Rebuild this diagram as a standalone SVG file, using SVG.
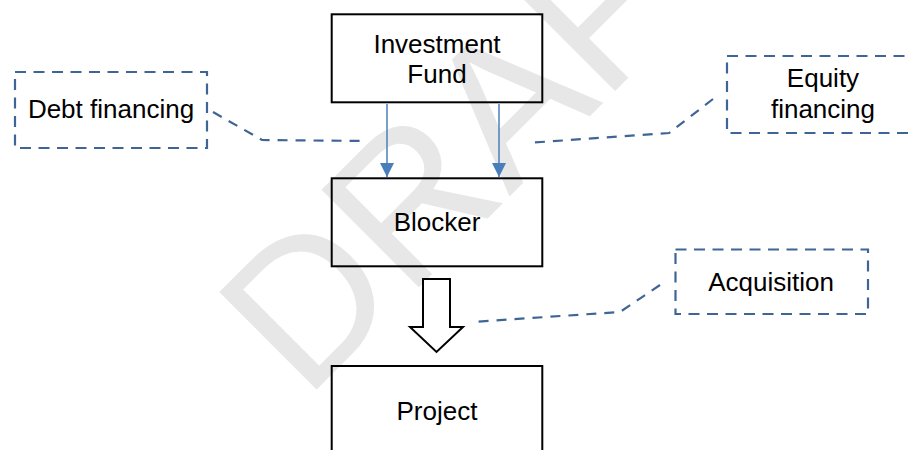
<svg xmlns="http://www.w3.org/2000/svg" width="912" height="450" viewBox="0 0 912 450">
<defs>
<style>
.box{fill:none;stroke:#000;stroke-width:2}
.note{fill:none;stroke:#3f6596;stroke-width:2.2;stroke-dasharray:11 7.5}
.lead{fill:none;stroke:#3f6596;stroke-width:2.2;stroke-dasharray:10 8}
.flow{fill:none;stroke:#4a7ebb;stroke-width:1.5}
.t{font-family:"Liberation Sans",Arial,sans-serif;font-size:26px;fill:#000;text-anchor:middle}
.wm{font-family:"Liberation Sans",Arial,sans-serif;font-size:200px;fill:#e7e7e7}
</style>
<marker id="ah" viewBox="0 0 14 14" markerWidth="14" markerHeight="14" refX="14" refY="7" orient="auto" markerUnits="userSpaceOnUse">
<path d="M0,0 L14,7 L0,14 Z" fill="#4a7ebb"/>
</marker>
</defs>
<rect width="912" height="450" fill="#fff"/>
<text class="wm" transform="translate(305,401) rotate(-45)">DRAFT</text>

<g id="connectors">
<line class="flow" x1="387" y1="104" x2="387" y2="177" marker-end="url(#ah)"/>
<line class="flow" x1="499" y1="104" x2="499" y2="177" marker-end="url(#ah)"/>
<polygon points="423,279 450,279 450,327 463,327 436.5,352 410,327 423,327" fill="#fff" stroke="#000" stroke-width="2"/>
<polyline class="lead" points="213,112 262,140 365,141"/>
<polyline class="lead" points="713,99 669,133 527,143"/>
<polyline class="lead" points="660,285 620,312 472,322"/>
</g>

<g id="investment-fund">
<rect class="box" x="331.7" y="14.3" width="210.6" height="88"/>
<text class="t" x="437" y="53">Investment</text>
<text class="t" x="437" y="83">Fund</text>
</g>
<g id="blocker">
<rect class="box" x="331.7" y="178.3" width="210.6" height="88"/>
<text class="t" x="437" y="231">Blocker</text>
</g>
<g id="project">
<rect class="box" x="331.7" y="366" width="210.6" height="100"/>
<text class="t" x="437" y="420">Project</text>
</g>
<g id="debt-financing">
<rect class="note" x="15" y="72" width="192" height="76"/>
<text class="t" x="111" y="118">Debt financing</text>
</g>
<g id="equity-financing">
<rect class="note" x="727" y="56" width="200" height="77"/>
<text class="t" x="823" y="87">Equity</text>
<text class="t" x="823" y="118">financing</text>
</g>
<g id="acquisition">
<rect class="note" x="675.5" y="249.5" width="192.5" height="64.5"/>
<text class="t" x="771" y="291">Acquisition</text>
</g>
</svg>
